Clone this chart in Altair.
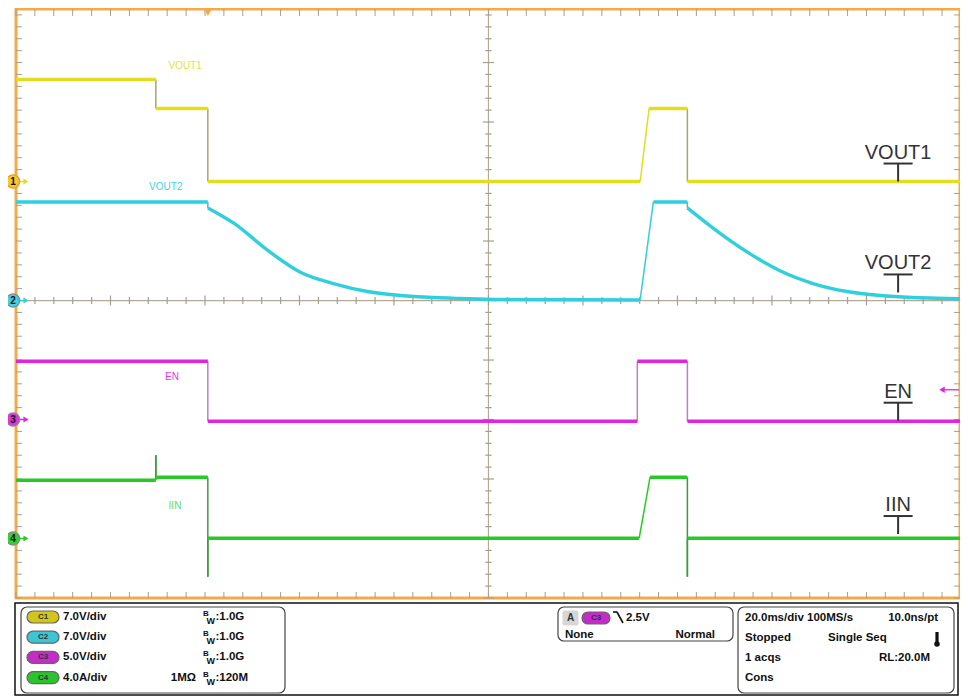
import altair as alt
import numpy as np
import pandas as pd

# ------------------------------------------------------------------
# Waveform data (time in ms, 20 ms/div)
# ------------------------------------------------------------------
VOUT1_T = [-40, -10.4, -10.4, 0.6, 0.6, 92.1, 94.0, 102.1, 102.1, 160]
VOUT1_V = [12.0, 12.0, 8.6, 8.6, 0.0, 0.0, 8.6, 8.6, 0.0, 0.0]

VOUT2_T = [-40, 0.6, 0.6, 6.1, 13.3, 20.3, 27.2, 34.4, 41.4, 48.4, 54.1, 62.5, 92.1,
           94.9, 102.1, 102.1, 107.6, 114.8, 121.7, 128.7, 135.9, 142.9, 149.8, 157.0, 160]
VOUT2_V = [11.6, 11.6, 10.9, 9.1, 5.9, 3.3, 2.0, 1.06, 0.59, 0.35, 0.24, 0.12, 0.06,
           11.6, 11.6, 10.9, 8.5, 5.7, 3.5, 2.0, 1.06, 0.59, 0.35, 0.24, 0.2]

EN_T = [-40, 0.6, 0.6, 91.5, 91.5, 102.1, 102.1, 160]
EN_V = [4.9, 4.9, -0.15, -0.15, 4.9, 4.9, -0.15, -0.15]

IIN_T = [-40, -10.4, -10.4, -10.4, 0.6, 0.6, 0.6, 91.9, 94.2, 102.1, 102.1, 102.1, 160]
IIN_A = [3.92, 3.92, 5.6, 4.12, 4.12, -2.57, 0.02, 0.02, 4.12, 4.12, -2.57, 0.02, 0.02]

CHANNELS = ["VOUT1", "VOUT2", "EN", "IIN"]
CH_NUM = ["1", "2", "3", "4"]
CH_PER_DIV = [7.0, 7.0, 5.0, 4.0]          # V/div, V/div, V/div, A/div
CH_POS = [2.0, 0.0, -2.0, -4.0]            # channel ground marker (divisions)
TRACE_T = [VOUT1_T, VOUT2_T, EN_T, IIN_T]
TRACE_V = [VOUT1_V, VOUT2_V, EN_V, IIN_A]

T_START, T_END = -40.0, 160.0
TRIG_T = 0.6
TRIG_LEVEL = 2.5                            # V on C3

# status-bar text
CH_SETTINGS = ["7.0V/div", "7.0V/div", "5.0V/div", "4.0A/div"]
CH_BW = [":1.0G", ":1.0G", ":1.0G", ":120M"]
CH_BADGE = ["C1", "C2", "C3", "C4"]
IMPEDANCE = "1MΩ"
TRIG_TXT = ["A", "C3", "2.5V", "None", "Normal"]
ACQ_LEFT = ["20.0ms/div 100MS/s", "Stopped", "Single Seq", "1 acqs", "Cons"]
ACQ_RIGHT = ["10.0ns/pt", "RL:20.0M"]

# ------------------------------------------------------------------
# Styles / layout
# ------------------------------------------------------------------
CH_COLOR = ["#e3dc1f", "#2fcfdd", "#e024df", "#27c927"]
CH_EDGE = ["#a9a46e", "#5fb3bb", "#b980c3", "#3e9a3e"]
CH_LABEL_COLOR = ["#e6e03a", "#3ad6e6", "#e23ae0", "#5ddf5d"]
MARKER_FILL = ["#f5c832", "#3dd3e6", "#e033e0", "#2fd22f"]
MARKER_STROKE = ["#e99a2a", "#8a8a8a", "#8a8a8a", "#8a8a8a"]
BADGE_FILL = ["#d2c61c", "#3cc6d4", "#c42cc8", "#2cc42c"]
FONT = "Liberation Sans"
GRID = "#b3aa97"
TICKC = "#a89f8c"
ORANGE = "#f4a94a"

# the page cannot show the top 6 px of the screen, so the view starts a little
# below the top graticule line (domain top 4.9 div instead of 5)
X_MAX_SHOWN = 159.8
Y_MIN, Y_MAX = -5.0, 4.9
W, H = 944, 589
PAD_L, PAD_T, PAD_R, PAD_B = 8, 1, 0, 98
ORIG_X, ORIG_Y = 8 + PAD_L, 8 + PAD_T   # page position of the plot origin
PX_MS = W / (X_MAX_SHOWN - T_START)
PX_DIV = H / (Y_MAX - Y_MIN)

xs = alt.Scale(domain=[T_START, X_MAX_SHOWN], nice=False, zero=False)
ys = alt.Scale(domain=[Y_MIN, Y_MAX], nice=False, zero=False)


def X(f):
    return alt.X(f, type="quantitative", scale=xs, axis=None)


def Y(f):
    return alt.Y(f, type="quantitative", scale=ys, axis=None)


def PX(f):
    return alt.X(f, type="quantitative", scale=None, axis=None)


def PY(f):
    return alt.Y(f, type="quantitative", scale=None, axis=None)


layers = []

# ---------------- graticule ----------------
xaxis = alt.Axis(values=[T_START + 20 * k for k in range(10)], grid=True, gridColor=GRID,
                 gridDash=[1.4, PX_DIV / 5 - 1.4], gridWidth=1.3, labels=False, ticks=False,
                 domain=False, title=None)
yaxis = alt.Axis(values=[-5 + k for k in range(10)], grid=True, gridColor=GRID,
                 gridDash=[1.4, PX_MS * 4 - 1.4], gridWidth=1.3, labels=False, ticks=False,
                 domain=False, title=None)

layers.append(alt.Chart(pd.DataFrame({"t": [(T_START + T_END) / 2]})).mark_rule(
    color=GRID, strokeWidth=1.2).encode(x=alt.X("t:Q", scale=xs, axis=xaxis)))
layers.append(alt.Chart(pd.DataFrame({"d": [0.0]})).mark_rule(
    color=GRID, strokeWidth=1.2).encode(y=alt.Y("d:Q", scale=ys, axis=yaxis)))

minor_t = np.round(np.arange(T_START, X_MAX_SHOWN + 0.001, 4.0), 3)
minor_d = np.round(np.arange(-5, Y_MAX + 0.001, 0.2), 3)
df_mt = pd.DataFrame({"t": minor_t})
df_md = pd.DataFrame({"d": minor_d})

# border ticks
layers.append(alt.Chart(df_mt).mark_rule(color=TICKC, strokeWidth=1).encode(
    x=X("t"), y=alt.value(0), y2=alt.value(7)))
layers.append(alt.Chart(df_mt).mark_rule(color=TICKC, strokeWidth=1).encode(
    x=X("t"), y=alt.value(H - 6), y2=alt.value(H)))
layers.append(alt.Chart(df_md).mark_rule(color=TICKC, strokeWidth=1).encode(
    y=Y("d"), x=alt.value(0), x2=alt.value(6)))
layers.append(alt.Chart(df_md).mark_rule(color=TICKC, strokeWidth=1).encode(
    y=Y("d"), x=alt.value(W - 6), x2=alt.value(W)))

# centre-line ticks
tc = (T_START + T_END) / 2
major_d = np.isclose(minor_d, np.round(minor_d))
half_h = np.where(major_d, 5.5, 3.2) / PX_MS
df_ct = pd.DataFrame({"d": minor_d, "lo": tc - half_h, "hi": tc + half_h})
layers.append(alt.Chart(df_ct).mark_rule(color=TICKC, strokeWidth=1.2).encode(
    y=Y("d"), x=X("lo"), x2="hi"))
major_t = np.isclose((minor_t - T_START) / 20, np.round((minor_t - T_START) / 20))
half_v = np.where(major_t, 5.0, 3.5) / PX_DIV
df_cv = pd.DataFrame({"t": minor_t, "lo": -half_v, "hi": half_v})
layers.append(alt.Chart(df_cv).mark_rule(color=TICKC, strokeWidth=1.2).encode(
    x=X("t"), y=Y("lo"), y2="hi"))

# ---------------- traces ----------------
thick_rows, thin_rows = [], []
for ci, name in enumerate(CHANNELS):
    ts, vs = TRACE_T[ci], TRACE_V[ci]
    ds = [CH_POS[ci] + v / CH_PER_DIV[ci] for v in vs]
    run, k = None, 0
    for i in range(len(ts) - 1):
        dx = (ts[i + 1] - ts[i]) * PX_MS
        dy = abs(ds[i + 1] - ds[i]) * PX_DIV
        if dx > 0 and dy <= 2.5 * dx:
            if run is None:
                k += 1
                run = f"{name}-{k}"
                thick_rows.append(dict(ch=name, run=run, i=i, t=ts[i], d=ds[i]))
            thick_rows.append(dict(ch=name, run=run, i=i + 1, t=ts[i + 1], d=ds[i + 1]))
        else:
            run = None
            thin_rows.append(dict(ch=name, t=ts[i], t2=ts[i + 1], d=ds[i], d2=ds[i + 1],
                                  col=CH_EDGE[ci] if dx == 0 else CH_COLOR[ci]))
df_thick = pd.DataFrame(thick_rows)
df_thin = pd.DataFrame(thin_rows)

for ci in [3, 2, 1, 0]:
    name = CHANNELS[ci]
    layers.append(alt.Chart(df_thin[df_thin.ch == name]).mark_rule(strokeWidth=1.5).encode(
        x=X("t"), x2="t2", y=Y("d"), y2="d2", color=alt.Color("col:N", scale=None)))
    layers.append(alt.Chart(df_thick[df_thick.ch == name]).mark_line(
        color=CH_COLOR[ci], strokeWidth=3.4, interpolate="monotone", strokeJoin="round").encode(
        x=X("t"), y=Y("d"), detail="run:N", order="i:Q"))

# ---------------- in-plot small labels ----------------
SMALL_T = [-4.2, -8.3, -7.0, -6.35]
SMALL_D = [3.94, 1.91, -1.29, -3.45]
df_small = pd.DataFrame({"t": SMALL_T, "d": SMALL_D, "txt": CHANNELS, "col": CH_LABEL_COLOR})
layers.append(alt.Chart(df_small).mark_text(font=FONT, fontSize=10, align="center",
                                            baseline="middle").encode(
    x=X("t"), y=Y("d"), text="txt:N", color=alt.Color("col:N", scale=None)))

# ---------------- big right-hand labels with T markers ----------------
LABEL_T = 146.7
LABEL_LEVEL = [0.0, 0.95, -0.1, 0.3]
stem = 18 / PX_DIV
half_bar = 14.5 / PX_MS
base = [CH_POS[i] + LABEL_LEVEL[i] / CH_PER_DIV[i] for i in range(4)]
df_big = pd.DataFrame({"txt": CHANNELS, "t": LABEL_T, "d0": base,
                       "d1": [b + stem for b in base],
                       "tl": LABEL_T - half_bar, "tr": LABEL_T + half_bar})
layers.append(alt.Chart(df_big).mark_rule(color="#333333", strokeWidth=2).encode(
    x=X("t"), y=Y("d0"), y2="d1"))
layers.append(alt.Chart(df_big).mark_rule(color="#333333", strokeWidth=2).encode(
    x=X("tl"), x2="tr", y=Y("d1")))
layers.append(alt.Chart(df_big).mark_text(font=FONT, fontSize=20, color="#333333",
                                          align="center", baseline="alphabetic", dy=-5).encode(
    x=X("t"), y=Y("d1"), text="txt:N"))

# ---------------- channel markers (left) ----------------
df_mk = pd.DataFrame({"d": CH_POS, "num": CH_NUM, "fill": MARKER_FILL,
                      "stroke": MARKER_STROKE, "col": CH_COLOR})
layers.append(alt.Chart(df_mk).mark_rule(strokeWidth=1.5).encode(
    y=Y("d"), x=alt.value(3), x2=alt.value(9), color=alt.Color("col:N", scale=None)))
layers.append(alt.Chart(df_mk).mark_point(shape="triangle-right", filled=True, size=35,
                                          opacity=1).encode(
    y=Y("d"), x=alt.value(10), color=alt.Color("col:N", scale=None)))
layers.append(alt.Chart(df_mk).mark_point(shape="circle", filled=True, size=175, opacity=1,
                                          strokeWidth=1.4).encode(
    y=Y("d"), x=alt.value(-3), fill=alt.Fill("fill:N", scale=None),
    stroke=alt.Stroke("stroke:N", scale=None)))
layers.append(alt.Chart(df_mk).mark_text(font=FONT, fontSize=10, fontWeight="bold",
                                         color="#111111").encode(
    y=Y("d"), x=alt.value(-3), text="num:N"))

# trigger position (top) and level (right)
layers.append(alt.Chart(pd.DataFrame({"t": [TRIG_T]})).mark_point(
    shape="triangle-down", filled=True, size=90, color=ORANGE, opacity=1).encode(
    x=X("t"), y=alt.value(3)))
df_tl = pd.DataFrame({"d": [CH_POS[2] + TRIG_LEVEL / CH_PER_DIV[2]]})
layers.append(alt.Chart(df_tl).mark_rule(color=CH_COLOR[2], strokeWidth=1.3).encode(
    y=Y("d"), x=alt.value(W - 17), x2=alt.value(W - 1)))
layers.append(alt.Chart(df_tl).mark_point(shape="triangle-left", filled=True, size=40,
                                          color=CH_COLOR[2], opacity=1).encode(
    y=Y("d"), x=alt.value(W - 18)))

# ---------------- status bar (page pixel layout) ----------------
ROWS = [617 + 20.2 * i for i in range(4)]


def v(px, py):
    return px - ORIG_X, py - ORIG_Y


def rect_df(items):
    rows = []
    for (x0, y0, x1, y1, fill, stroke) in items:
        a = v(x0, y0)
        b = v(x1, y1)
        rows.append(dict(x0=a[0], y0=a[1], x1=b[0], y1=b[1], fill=fill, stroke=stroke))
    return pd.DataFrame(rows)


def rect_layer(df, radius, sw):
    return alt.Chart(df).mark_rect(cornerRadius=radius, strokeWidth=sw).encode(
        x=PX("x0"), x2="x1", y=PY("y0"), y2="y1",
        fill=alt.Fill("fill:N", scale=None), stroke=alt.Stroke("stroke:N", scale=None))


layers.append(rect_layer(rect_df([(15, 603, 958, 695, "#ffffff", "#111111")]), 0, 1.5))
layers.append(rect_layer(rect_df([(21, 607, 285, 693, "#ffffff", "#444444"),
                                  (558, 607, 733, 641, "#ffffff", "#444444"),
                                  (738, 607, 954, 693, "#ffffff", "#444444")]), 6, 1.2))
badges = [(27, r - 6, 59, r + 6, BADGE_FILL[i], "#666666") for i, r in enumerate(ROWS)]
badges.append((582, 612, 610, 624, BADGE_FILL[2], "#666666"))
layers.append(rect_layer(rect_df(badges), 6, 1.2))
layers.append(rect_layer(rect_df([(563, 611, 578, 625, "#d6d6d6", "#d6d6d6")]), 1, 1))


def text_df(items):
    rows = []
    for (px, py, txt, fs) in items:
        a = v(px, py)
        rows.append(dict(x=a[0], y=a[1], txt=txt, fs=fs))
    return pd.DataFrame(rows)


def text_layer(df, align, weight="bold", color="#111111"):
    return alt.Chart(df).mark_text(font=FONT, fontWeight=weight, align=align,
                                   baseline="middle", color=color).encode(
        x=PX("x"), y=PY("y"), text="txt:N", size=alt.Size("fs:Q", scale=None))


ACQ_ROWS = [618, 638, 658, 678]
left_items = []
for i, r in enumerate(ROWS):
    left_items.append((63, r, CH_SETTINGS[i], 11.5))
    left_items.append((203, r - 3, "B", 8))
    left_items.append((206.5, r + 4, "W", 9))
    left_items.append((215.5, r, CH_BW[i], 11.5))
left_items += [(626, 618, TRIG_TXT[2], 11.5), (565, 635, TRIG_TXT[3], 11.5),
               (745, ACQ_ROWS[0], ACQ_LEFT[0], 11.5), (745, ACQ_ROWS[1], ACQ_LEFT[1], 11.5),
               (828, ACQ_ROWS[1], ACQ_LEFT[2], 11.5), (745, ACQ_ROWS[2], ACQ_LEFT[3], 11.5),
               (745, ACQ_ROWS[3], ACQ_LEFT[4], 11.5)]
right_items = [(196, ROWS[3], IMPEDANCE, 11.5), (715, 635, TRIG_TXT[4], 11.5),
               (938, ACQ_ROWS[0], ACQ_RIGHT[0], 11.5), (930, ACQ_ROWS[2], ACQ_RIGHT[1], 11.5)]
center_items = [(43, r, CH_BADGE[i], 8) for i, r in enumerate(ROWS)]
center_items += [(596, 618, TRIG_TXT[1], 8), (570.5, 618, TRIG_TXT[0], 10)]
layers.append(text_layer(text_df(left_items), "left"))
layers.append(text_layer(text_df(right_items), "right"))
layers.append(text_layer(text_df(center_items), "center", color="#333333"))

# falling-edge symbol and thermometer icon
seg_rows = []
for (x0, y0, x1, y1, w) in [(613, 612, 617, 612, 1.6), (617, 612, 623, 623, 1.6),
                            (937, 632, 937, 642, 3.2)]:
    a, b = v(x0, y0), v(x1, y1)
    seg_rows.append(dict(x0=a[0], y0=a[1], x1=b[0], y1=b[1], w=w))
layers.append(alt.Chart(pd.DataFrame(seg_rows)).mark_rule(color="#111111").encode(
    x=PX("x0"), x2="x1", y=PY("y0"), y2="y1", strokeWidth=alt.StrokeWidth("w:Q", scale=None)))
bulb = v(937, 644)
layers.append(alt.Chart(pd.DataFrame({"x": [bulb[0]], "y": [bulb[1]]})).mark_point(
    shape="circle", filled=True, size=30, color="#111111", opacity=1).encode(
    x=PX("x"), y=PY("y")))

chart = alt.layer(*layers).properties(
    width=W, height=H,
    autosize=alt.AutoSizeParams(type="none"),
    padding={"left": PAD_L, "top": PAD_T, "right": PAD_R, "bottom": PAD_B},
    background="white",
).configure_view(stroke=ORANGE, strokeWidth=3)

chart.save("out.html", embed_options={"renderer": "svg", "actions": False})
